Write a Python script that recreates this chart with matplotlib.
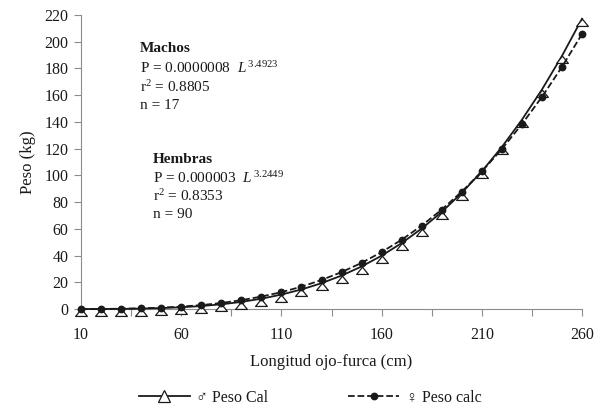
import numpy as np
import matplotlib.pyplot as plt
from matplotlib.ticker import FixedLocator
from matplotlib.path import Path
from matplotlib.lines import Line2D

plt.rcParams['font.family'] = ['Liberation Serif', 'DejaVu Sans']
plt.rcParams['mathtext.fontset'] = 'custom'
plt.rcParams['mathtext.rm'] = 'Liberation Serif'
plt.rcParams['mathtext.it'] = 'Liberation Serif:italic'

# longitud ojo-furca (cm)
longitud = [10, 20, 30, 40, 50, 60, 70, 80, 90, 100, 110, 120, 130,
            140, 150, 160, 170, 180, 190, 200, 210, 220, 230, 240, 250, 260]

# peso calculado machos (kg)
peso_machos = [0.0, 0.03, 0.1, 0.3, 0.7, 1.3, 2.2, 3.5, 5.3, 7.7, 10.8, 14.6, 19.3,
               25.0, 31.8, 39.9, 49.3, 60.2, 72.6, 86.9, 103.0, 121.2, 141.6, 164.2, 189.4, 217.2]

# peso calculado hembras (kg)
peso_hembras = [0.0, 0.05, 0.2, 0.5, 1.0, 1.8, 2.9, 4.5, 6.6, 9.3, 12.6, 16.7, 21.7,
                27.6, 34.5, 42.6, 51.8, 62.4, 74.4, 87.8, 102.9, 119.7, 138.3, 158.7, 181.2, 205.8]

x_labels = [10, 60, 110, 160, 210, 260]
y_ticks = list(range(0, 221, 20))

ink = '#1a1a1a'
grey = '#8c8c8c'

# triangle hanging just under the point, like the original
tri = Path([(0, 0.05), (-0.85, -1), (0.85, -1), (0, 0.05)],
           [Path.MOVETO, Path.LINETO, Path.LINETO, Path.CLOSEPOLY])

fig = plt.figure(figsize=(6.02, 4.09), dpi=100)
ax = fig.add_axes([0.1346, 0.2445, 0.8322, 0.7188])

ax.plot(longitud, peso_machos, '-', color=ink, lw=1.3, marker=tri, ms=10,
        mfc='white', mec=ink, mew=0.9, zorder=3, clip_on=False)
ax.plot(longitud, peso_hembras, '--', color=ink, lw=1.3, marker='o', ms=4.6,
        mfc=ink, mec=ink, zorder=4, clip_on=False)

ax.set_xlim(10, 260)
ax.set_ylim(0, 220)
ax.xaxis.set_major_locator(FixedLocator(x_labels))
ax.xaxis.set_minor_locator(FixedLocator([35, 85, 135, 185, 235]))
ax.set_yticks(y_ticks)

for s in ['top', 'right']:
    ax.spines[s].set_visible(False)
for s in ['left', 'bottom']:
    ax.spines[s].set_color(grey)
    ax.spines[s].set_linewidth(0.8)

ax.tick_params(axis='both', which='both', colors=grey, labelcolor=ink,
               labelsize=11.5, direction='out', width=0.8)
ax.tick_params(axis='x', which='both', length=5, pad=8)
ax.tick_params(axis='y', length=5, pad=4)

ax.set_xlabel('Longitud ojo-furca (cm)', fontsize=12, color=ink, labelpad=8)
ax.set_ylabel('Peso (kg)', fontsize=12, color=ink, labelpad=6)

fs = 11
ax.text(0.117, 0.885, 'Machos', transform=ax.transAxes, fontsize=fs,
        fontweight='bold', color=ink, va='center')
ax.text(0.117, 0.819, r'P = 0.0000008  $\mathit{L}^{\,3.4923}$', transform=ax.transAxes,
        fontsize=fs, color=ink, va='center')
ax.text(0.117, 0.755, r'r$^{2}$ = 0.8805', transform=ax.transAxes, fontsize=fs,
        color=ink, va='center')
ax.text(0.117, 0.693, 'n = 17', transform=ax.transAxes, fontsize=fs,
        color=ink, va='center')

ax.text(0.143, 0.509, 'Hembras', transform=ax.transAxes, fontsize=fs,
        fontweight='bold', color=ink, va='center')
ax.text(0.143, 0.445, r'P = 0.000003  $\mathit{L}^{\,3.2449}$', transform=ax.transAxes,
        fontsize=fs, color=ink, va='center')
ax.text(0.143, 0.383, r'r$^{2}$ = 0.8353', transform=ax.transAxes, fontsize=fs,
        color=ink, va='center')
ax.text(0.143, 0.321, 'n = 90', transform=ax.transAxes, fontsize=fs,
        color=ink, va='center')

# legend handles with the triangle centred on the line
h_m = Line2D([], [], ls='-', color=ink, lw=1.3, marker='^', ms=8,
             mfc='white', mec=ink, mew=0.9)
h_h = Line2D([], [], ls='--', color=ink, lw=1.3, marker='o', ms=4.6,
             mfc=ink, mec=ink)
fig.legend([h_m, h_h], ['\u2642 Peso Cal', '\u2640 Peso calc'],
           loc='center', bbox_to_anchor=(0.515, 0.027), ncol=2, frameon=False,
           fontsize=11.5, handlelength=3.2, columnspacing=5.0, handletextpad=0.4,
           labelcolor=ink)

fig.savefig('out.png', dpi=100)
